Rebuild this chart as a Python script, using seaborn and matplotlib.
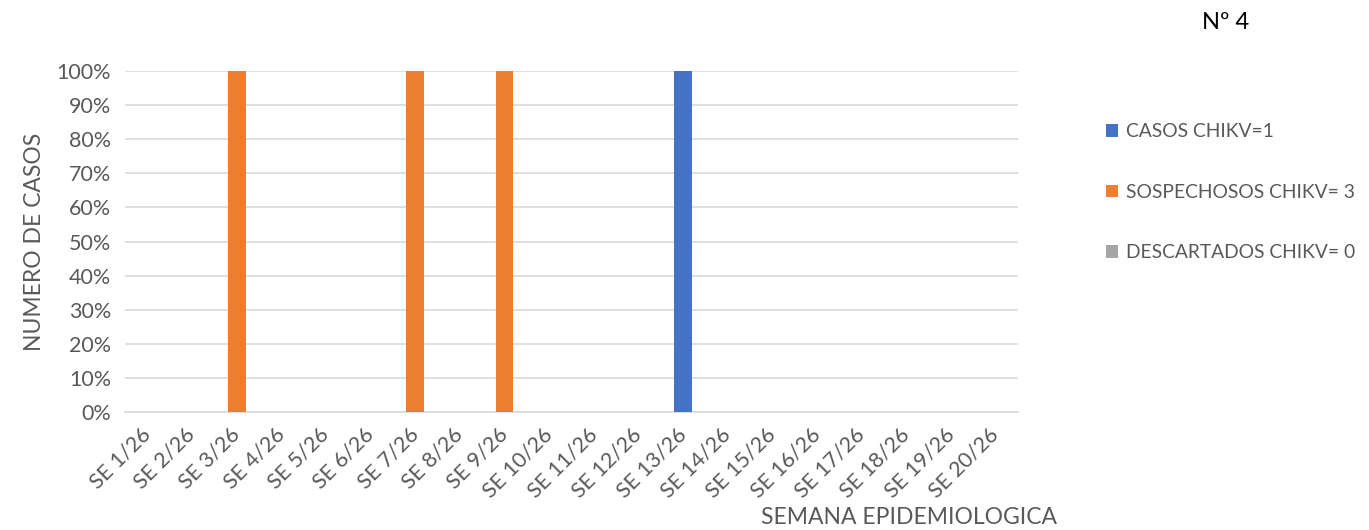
import numpy as np
import pandas as pd
import matplotlib
matplotlib.use("Agg")
import matplotlib.pyplot as plt
import seaborn as sns
from matplotlib.patches import Patch
from matplotlib.ticker import PercentFormatter

semanas = [f"SE {i}/26" for i in range(1, 21)]
casos = [0, 0, 0, 0, 0, 0, 0, 0, 0, 0, 0, 0, 1, 0, 0, 0, 0, 0, 0, 0]
sospechosos = [0, 0, 1, 0, 0, 0, 1, 0, 1, 0, 0, 0, 0, 0, 0, 0, 0, 0, 0, 0]
descartados = [0] * 20
series_names = ["CASOS CHIKV=1", "SOSPECHOSOS CHIKV= 3", "DESCARTADOS CHIKV= 0"]
colors = ["#4472C4", "#ED7D31", "#A5A5A5"]

sns.set_style("white")
plt.rcParams['font.family'] = ['Lato', 'DejaVu Sans']
txt = "#595959"

df = pd.DataFrame({"semana": semanas, "casos": casos,
                   "sospechosos": sospechosos, "descartados": descartados})
total = df[["casos", "sospechosos", "descartados"]].sum(axis=1).replace(0, np.nan)
pct = df[["casos", "sospechosos", "descartados"]].div(total, axis=0).fillna(0)
pct["semana"] = semanas

fig = plt.figure(figsize=(13.69, 5.30), dpi=100)
ax = fig.add_axes([0.0913, 0.2226, 0.6523, 0.6434])

bottom = np.zeros(len(semanas))
for col, c in zip(["casos", "sospechosos", "descartados"], colors):
    sns.barplot(data=pct, x="semana", y=col, color=c, width=0.4,
                bottom=bottom, ax=ax, saturation=1, zorder=3, linewidth=0)
    bottom = bottom + pct[col].values

ax.set_ylim(0, 1)
ax.set_xlim(-0.5, len(semanas) - 0.5)
ax.set_yticks(np.arange(0, 1.01, 0.1))
ax.yaxis.set_major_formatter(PercentFormatter(1.0, decimals=0))
ax.grid(axis="y", color="#D9D9D9", linewidth=1.2, zorder=0)
for s in ["top", "right", "left"]:
    ax.spines[s].set_visible(False)
ax.spines["bottom"].set_color("#D9D9D9")
ax.spines["bottom"].set_linewidth(1.2)
ax.tick_params(axis="both", length=0, colors=txt, labelsize=15.5)
ax.set_xticks(range(len(semanas)))
ax.set_xticklabels(semanas, rotation=45, ha="right", va="center",
                   rotation_mode="anchor")
ax.tick_params(axis="x", pad=14)
ax.tick_params(axis="y", pad=10)

ax.set_ylabel("NUMERO DE CASOS", fontsize=16.5, color=txt, labelpad=8)
ax.set_xlabel("")
fig.text(0.664, 0.024, "SEMANA EPIDEMIOLOGICA", fontsize=16.5, color=txt,
         ha="center", va="center")
fig.text(0.895, 0.958, "Nº 4", fontsize=17, color="black",
         ha="center", va="center")

handles = [Patch(facecolor=c, edgecolor="none") for c in colors]
fig.legend(handles, series_names, loc="upper left",
           bbox_to_anchor=(0.795, 0.8), frameon=False, fontsize=13.9,
           labelcolor=txt, handlelength=0.65, handleheight=0.65,
           handletextpad=0.4, labelspacing=2.25)

fig.savefig("out.png", dpi=100)
